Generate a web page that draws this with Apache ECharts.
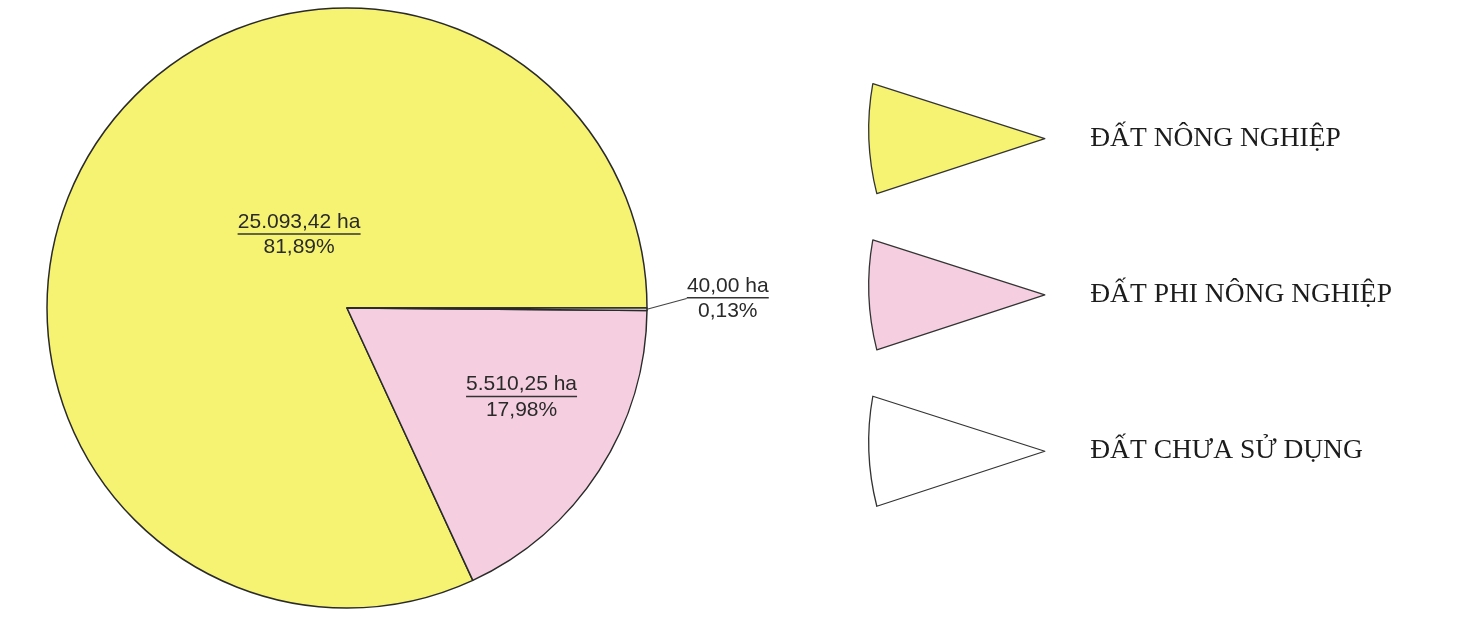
<!DOCTYPE html>
<html>
<head>
<meta charset="utf-8">
<script src="https://cdn.jsdelivr.net/npm/echarts@6/dist/echarts.min.js"></script>
<style>
  html, body { margin: 0; padding: 0; background: #fff; }
  #main { width: 1468px; height: 635px; }
</style>
</head>
<body>
<div id="main"></div>
<script>
// dữ liệu
var landNames = ['ĐẤT NÔNG NGHIỆP', 'ĐẤT PHI NÔNG NGHIỆP', 'ĐẤT CHƯA SỬ DỤNG'];
var areaHa = [25093.42, 5510.25, 40.00];
var sliceColors = ['#f6f373', '#f5cfe0', '#ffffff'];

var LABEL_FONT = 21;
var total = areaHa.reduce(function (a, b) { return a + b; }, 0);

function fmtVN(v) {
    var s = v.toFixed(2).split('.');
    return s[0].replace(/\B(?=(\d{3})+(?!\d))/g, '.') + ',' + s[1];
}

var ctx = document.createElement('canvas').getContext('2d');
ctx.font = LABEL_FONT + 'px "Liberation Sans", Arial';

var rich = {
    v: { fontSize: LABEL_FONT, fontFamily: '"Liberation Sans", Arial', color: '#2a2a2a', lineHeight: 21, align: 'center' },
    p: { fontSize: LABEL_FONT, fontFamily: '"Liberation Sans", Arial', color: '#2a2a2a', lineHeight: 24, align: 'center' }
};

var pieData = landNames.map(function (name, i) {
    var ha = fmtVN(areaHa[i]) + ' ha';
    rich['u' + i] = {
        width: Math.round(ctx.measureText(ha).width),
        height: 1.6, lineHeight: 3, fontSize: 1,
        backgroundColor: '#333', align: 'center'
    };
    var item = { name: name, value: areaHa[i], itemStyle: { color: sliceColors[i] } };
    if (i === 2) {
        item.label = { position: 'outside' };
        item.labelLine = { show: true, length: 10, length2: 0, lineStyle: { color: '#444', width: 1.2 } };
    }
    return item;
});

var chart = echarts.init(document.getElementById('main'));

var option = {
    backgroundColor: '#fff',
    animation: false,
    legend: {
        orient: 'vertical',
        left: 868,
        top: 83,
        padding: 0,
        itemWidth: 177,
        itemHeight: 110,
        itemGap: 45,
        icon: 'path://M177,55L5,0Q-5,55 9,110Z',
        itemStyle: { borderColor: '#333', borderWidth: 1.3 },
        textStyle: {
            fontFamily: '"Liberation Serif", "Times New Roman", serif',
            fontSize: 27.5,
            color: '#1c1c1c',
            padding: [0, 0, 0, 40]
        },
        selectedMode: false,
        data: landNames
    },
    series: [{
        type: 'pie',
        center: [347, 308],
        radius: 300,
        startAngle: 0,
        clockwise: false,
        avoidLabelOverlap: false,
        itemStyle: { borderColor: '#2a2a2a', borderWidth: 1.5 },
        label: {
            show: true,
            position: 'inside',
            rich: rich,
            formatter: function (p) {
                var i = p.dataIndex;
                var pct = (areaHa[i] / total * 100).toFixed(2).replace('.', ',') + '%';
                return '{v|' + fmtVN(areaHa[i]) + ' ha}\n{u' + i + '| }\n{p|' + pct + '}';
            }
        },
        labelLine: { show: false },
        labelLayout: function (p) {
            if (p.dataIndex === 0) return { dx: 81, dy: 10 };
            if (p.dataIndex === 1) return { dx: 46, dy: 7 };
            return { x: p.rect.x + p.rect.width + 39, y: p.rect.y - 8 };
        },
        data: pieData
    }]
};

chart.setOption(option);
</script>
</body>
</html>
